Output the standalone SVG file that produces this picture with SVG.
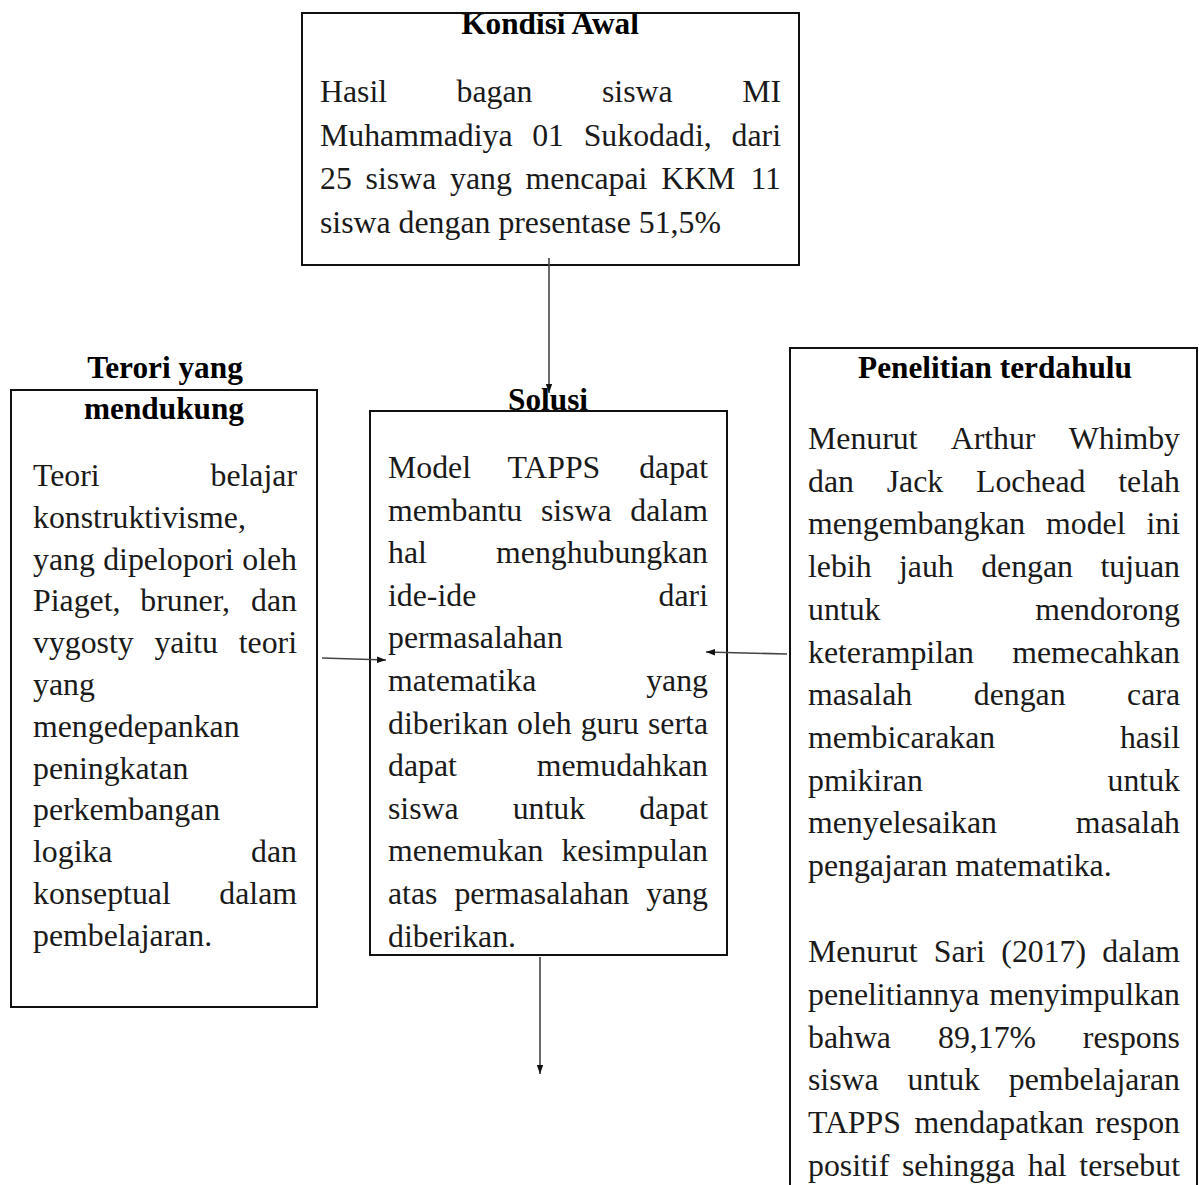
<svg xmlns="http://www.w3.org/2000/svg" width="1199" height="1185" viewBox="0 0 1199 1185">
<style>
  .box { fill: #ffffff; stroke: #111111; stroke-width: 2; }
  .frame { fill: none; stroke: #111111; stroke-width: 2; }
  text { font-family: "Liberation Serif", "Times New Roman", serif; fill: #1a1a1a; }
  .b { font-size: 31.8px; }
  .e { font-size: 31.8px; text-anchor: end; }
  .t { font-size: 31.3px; font-weight: bold; text-anchor: middle; fill: #000000; }
  .conn { stroke: #444444; stroke-width: 1.6; fill: none; marker-end: url(#arr); }
</style>
<defs>
  <marker id="arr" markerUnits="userSpaceOnUse" markerWidth="10" markerHeight="8" refX="9" refY="4" orient="auto">
    <path d="M0,0.8 L9,4 L0,7.2 Z" fill="#111111"/>
  </marker>
</defs>
<rect width="1199" height="1185" fill="#ffffff"/>

<g id="node-kondisi-awal">
  <rect class="box" x="302" y="13" width="497" height="252"/>
  <text class="t" x="550" y="34">Kondisi Awal</text>
  <rect class="frame" x="302" y="13" width="497" height="252"/>
  <text class="b" x="320" y="102">Hasil</text>
  <text class="b" x="456.6" y="102">bagan</text>
  <text class="b" x="602" y="102">siswa</text>
  <text class="e" x="781" y="102">MI</text>
  <text class="b" x="320" y="145.7">Muhammadiya</text>
  <text class="b" x="532.2" y="145.7">01</text>
  <text class="b" x="583.7" y="145.7">Sukodadi,</text>
  <text class="e" x="781" y="145.7">dari</text>
  <text class="b" x="320" y="189.4">25</text>
  <text class="b" x="365.6" y="189.4">siswa</text>
  <text class="b" x="450" y="189.4">yang</text>
  <text class="b" x="525.6" y="189.4">mencapai</text>
  <text class="b" x="661.2" y="189.4">KKM</text>
  <text class="e" x="781" y="189.4">11</text>
  <text class="b" x="320" y="233">siswa dengan presentase 51,5%</text>
</g>

<g id="node-teori">
  <text class="t" x="165" y="378">Terori yang</text>
  <rect class="box" x="11" y="390" width="306" height="617"/>
  <text class="t" x="164" y="419">mendukung</text>
  <text class="b" x="33" y="486">Teori</text>
  <text class="e" x="297" y="486">belajar</text>
  <text class="b" x="33" y="527.8">konstruktivisme,</text>
  <text class="b" x="33" y="569.6">yang</text>
  <text class="b" x="103.2" y="569.6">dipelopori</text>
  <text class="e" x="297" y="569.6">oleh</text>
  <text class="b" x="33" y="611.4">Piaget,</text>
  <text class="b" x="140.3" y="611.4">bruner,</text>
  <text class="e" x="297" y="611.4">dan</text>
  <text class="b" x="33" y="653.2">vygosty</text>
  <text class="b" x="154.4" y="653.2">yaitu</text>
  <text class="e" x="297" y="653.2">teori</text>
  <text class="b" x="33" y="695">yang</text>
  <text class="b" x="33" y="736.8">mengedepankan</text>
  <text class="b" x="33" y="778.6">peningkatan</text>
  <text class="b" x="33" y="820.4">perkembangan</text>
  <text class="b" x="33" y="862.2">logika</text>
  <text class="e" x="297" y="862.2">dan</text>
  <text class="b" x="33" y="904">konseptual</text>
  <text class="e" x="297" y="904">dalam</text>
  <text class="b" x="33" y="945.8">pembelajaran.</text>
</g>

<g id="node-solusi">
  <rect class="box" x="370" y="411" width="357" height="544"/>
  <text class="t" x="548" y="410">Solusi</text>
  <text class="b" x="388" y="478">Model</text>
  <text class="b" x="507.4" y="478">TAPPS</text>
  <text class="e" x="708" y="478">dapat</text>
  <text class="b" x="388" y="520.6">membantu</text>
  <text class="b" x="540.9" y="520.6">siswa</text>
  <text class="e" x="708" y="520.6">dalam</text>
  <text class="b" x="388" y="563.2">hal</text>
  <text class="e" x="708" y="563.2">menghubungkan</text>
  <text class="b" x="388" y="605.8">ide-ide</text>
  <text class="e" x="708" y="605.8">dari</text>
  <text class="b" x="388" y="648.4">permasalahan</text>
  <text class="b" x="388" y="691">matematika</text>
  <text class="e" x="708" y="691">yang</text>
  <text class="b" x="388" y="733.6">diberikan</text>
  <text class="b" x="517" y="733.6">oleh</text>
  <text class="b" x="580.7" y="733.6">guru</text>
  <text class="e" x="708" y="733.6">serta</text>
  <text class="b" x="388" y="776.2">dapat</text>
  <text class="e" x="708" y="776.2">memudahkan</text>
  <text class="b" x="388" y="818.8">siswa</text>
  <text class="b" x="512.7" y="818.8">untuk</text>
  <text class="e" x="708" y="818.8">dapat</text>
  <text class="b" x="388" y="861.4">menemukan</text>
  <text class="e" x="708" y="861.4">kesimpulan</text>
  <text class="b" x="388" y="904">atas</text>
  <text class="b" x="454.4" y="904">permasalahan</text>
  <text class="e" x="708" y="904">yang</text>
  <text class="b" x="388" y="946.6">diberikan.</text>
</g>

<g id="node-penelitian">
  <rect class="box" x="790" y="348" width="407" height="850"/>
  <text class="t" x="995" y="378">Penelitian terdahulu</text>
  <text class="b" x="808" y="449">Menurut</text>
  <text class="b" x="950.7" y="449">Arthur</text>
  <text class="e" x="1180" y="449">Whimby</text>
  <text class="b" x="808" y="491.7">dan</text>
  <text class="b" x="886.7" y="491.7">Jack</text>
  <text class="b" x="976" y="491.7">Lochead</text>
  <text class="e" x="1180" y="491.7">telah</text>
  <text class="b" x="808" y="534.4">mengembangkan</text>
  <text class="b" x="1046.1" y="534.4">model</text>
  <text class="e" x="1180" y="534.4">ini</text>
  <text class="b" x="808" y="577.1">lebih</text>
  <text class="b" x="899" y="577.1">jauh</text>
  <text class="b" x="981.2" y="577.1">dengan</text>
  <text class="e" x="1180" y="577.1">tujuan</text>
  <text class="b" x="808" y="619.8">untuk</text>
  <text class="e" x="1180" y="619.8">mendorong</text>
  <text class="b" x="808" y="662.5">keterampilan</text>
  <text class="e" x="1180" y="662.5">memecahkan</text>
  <text class="b" x="808" y="705.2">masalah</text>
  <text class="b" x="973.8" y="705.2">dengan</text>
  <text class="e" x="1180" y="705.2">cara</text>
  <text class="b" x="808" y="747.9">membicarakan</text>
  <text class="e" x="1180" y="747.9">hasil</text>
  <text class="b" x="808" y="790.6">pmikiran</text>
  <text class="e" x="1180" y="790.6">untuk</text>
  <text class="b" x="808" y="833.3">menyelesaikan</text>
  <text class="e" x="1180" y="833.3">masalah</text>
  <text class="b" x="808" y="876">pengajaran matematika.</text>
  <text class="b" x="808" y="962">Menurut</text>
  <text class="b" x="933.8" y="962">Sari</text>
  <text class="b" x="1001.3" y="962">(2017)</text>
  <text class="e" x="1180" y="962">dalam</text>
  <text class="b" x="808" y="1004.8">penelitiannya</text>
  <text class="e" x="1180" y="1004.8">menyimpulkan</text>
  <text class="b" x="808" y="1047.6">bahwa</text>
  <text class="b" x="938" y="1047.6">89,17%</text>
  <text class="e" x="1180" y="1047.6">respons</text>
  <text class="b" x="808" y="1090.4">siswa</text>
  <text class="b" x="907.5" y="1090.4">untuk</text>
  <text class="e" x="1180" y="1090.4">pembelajaran</text>
  <text class="b" x="808" y="1133.2">TAPPS</text>
  <text class="b" x="914.5" y="1133.2">mendapatkan</text>
  <text class="e" x="1180" y="1133.2">respon</text>
  <text class="b" x="808" y="1176">positif</text>
  <text class="b" x="902" y="1176">sehingga</text>
  <text class="b" x="1027.8" y="1176">hal</text>
  <text class="e" x="1180" y="1176">tersebut</text>
</g>

<g id="connectors">
  <line class="conn" x1="549" y1="258" x2="549" y2="393"/>
  <line class="conn" x1="322" y1="658" x2="386" y2="660"/>
  <line class="conn" x1="787" y1="654" x2="706" y2="652"/>
  <line class="conn" x1="540" y1="957" x2="540" y2="1074"/>
</g>
</svg>
